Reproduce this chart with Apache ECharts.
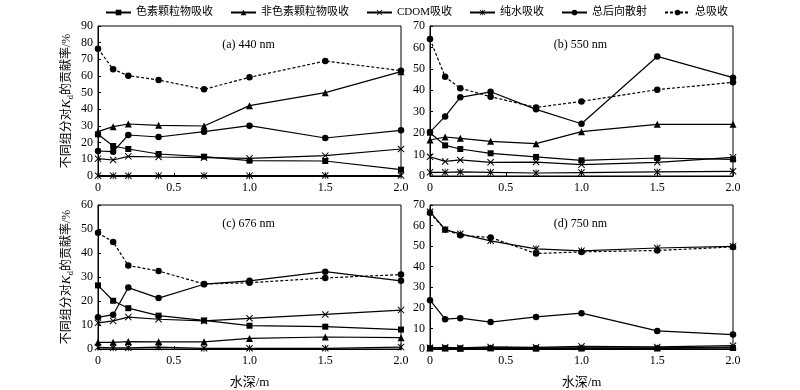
<!DOCTYPE html>
<html>
<head>
<meta charset="utf-8">
<script src="https://cdn.jsdelivr.net/npm/echarts@6/dist/echarts.min.js"></script>
<style>html,body{margin:0;padding:0;background:#fff}#c{width:800px;height:390px}</style>
</head>
<body>
<div id="c"></div>
<script>
var depth = [0, 0.1, 0.2, 0.4, 0.7, 1.0, 1.5, 2.0];
var seriesNames = ['色素颗粒物吸收', '非色素颗粒物吸收', 'CDOM吸收', '纯水吸收', '总后向散射', '总吸收'];
var panelTitles = ['(a) 440 nm', '(b) 550 nm', '(c) 676 nm', '(d) 750 nm'];
var yMax = [90, 70, 60, 70];
var xTicks = ['0', '0.5', '1.0', '1.5', '2.0'];

// (a) 440 nm
var pig_a = [25, 18, 16.2, 13.2, 11.6, 9.2, 9, 3.8];
var nap_a = [26.6, 29.6, 31.2, 30.4, 30, 42.2, 50, 62.6];
var cdom_a = [10.4, 9.6, 11.8, 11.4, 11, 10.6, 12.2, 16.2];
var water_a = [0.2, 0.2, 0.2, 0.2, 0.2, 0.2, 0.3, 0.3];
var bb_a = [15, 14.6, 24.6, 23.4, 26.6, 30.2, 22.8, 27.4];
var tot_a = [76.4, 64, 60.2, 57.6, 52, 59.2, 69, 63.2];
// (b) 550 nm
var pig_b = [20.2, 14.3, 12.6, 10.6, 8.9, 7.3, 8.4, 7.8];
var nap_b = [16.8, 18.2, 17.6, 16.2, 15.1, 20.7, 24.1, 24.1];
var cdom_b = [9, 6.8, 7.5, 6.4, 6.5, 5.3, 6.4, 8.7];
var water_b = [1.7, 1.7, 1.9, 1.7, 1.4, 1.6, 1.9, 2.2];
var bb_b = [20.5, 27.8, 36.7, 39.3, 31.1, 24.4, 55.8, 45.9];
var tot_b = [63.9, 46.3, 41, 37, 32, 34.8, 40.3, 43.7];
// (c) 676 nm
var pig_c = [26.5, 20.1, 17, 13.9, 11.9, 9.7, 9.3, 8.1];
var nap_c = [2.8, 2.8, 3.1, 3, 3, 4.4, 5, 4.7];
var cdom_c = [10.9, 11.7, 13.3, 12.4, 11.7, 12.8, 14.4, 16.2];
var water_c = [0.7, 0.5, 0.5, 0.8, 0.3, 0.3, 0.3, 0.8];
var bb_c = [13.2, 14.3, 25.6, 21.2, 27, 28.4, 32.2, 28.4];
var tot_c = [48.4, 44.6, 34.8, 32.5, 27.1, 27.6, 29.6, 31];
// (d) 750 nm
var pig_d = [0.4, 0.4, 0.3, 0.4, 0.3, 0.3, 0.3, 0.5];
var nap_d = [0.5, 0.5, 0.4, 0.6, 0.5, 0.6, 0.6, 0.9];
var cdom_d = [0.6, 0.8, 0.6, 1.0, 0.8, 1.3, 1.0, 1.6];
var water_d = [66.7, 58.1, 56, 52.6, 48.7, 47.7, 49.1, 49.9];
var bb_d = [23.7, 14.5, 15, 13.1, 15.6, 17.4, 8.8, 7];
var tot_d = [66.2, 58, 55.3, 54.2, 46.4, 47.2, 47.9, 49.6];

var panels = [
  [pig_a, nap_a, cdom_a, water_a, bb_a, tot_a],
  [pig_b, nap_b, cdom_b, water_b, bb_b, tot_b],
  [pig_c, nap_c, cdom_c, water_c, bb_c, tot_c],
  [pig_d, nap_d, cdom_d, water_d, bb_d, tot_d]
];

var FONT = "'Times New Roman','Liberation Serif','Noto Sans CJK SC',serif";
var X_PATH = 'path://M0,1L1,0L5,4L9,0L10,1L6,5L10,9L9,10L5,6L1,10L0,9L4,5Z';
var STAR_PATH = 'path://M0,1L1,0L5,4L9,0L10,1L6,5L10,9L9,10L5,6L1,10L0,9L4,5Z M4.4,0L5.6,0L5.6,10L4.4,10Z';
var symbols = ['rect', 'triangle', X_PATH, STAR_PATH, 'circle', 'circle'];
var symbolSizes = [6, 7, 7, 7, 6.5, 6.5];

var grids = [
  {left: 98, top: 26, width: 303, height: 150},
  {left: 430, top: 26, width: 303, height: 150},
  {left: 98, top: 205, width: 303, height: 148},
  {left: 430, top: 205, width: 303, height: 148}
];

var xAxes = [], yAxes = [], series = [], titles = [];
for (var p = 0; p < 4; p++) {
  grids[p].show = true;
  grids[p].borderColor = '#000';
  grids[p].borderWidth = 1;
  grids[p].backgroundColor = 'transparent';
  xAxes.push({
    type: 'value', gridIndex: p, min: 0, max: 2, interval: 0.5,
    axisLine: {show: true, lineStyle: {color: '#000', width: 1}},
    axisTick: {show: true, inside: true, length: 3, lineStyle: {color: '#000'}},
    splitLine: {show: false},
    axisLabel: {color: '#000', fontFamily: FONT, fontSize: 12, margin: 6,
      formatter: function (v) { return xTicks[Math.round(v / 0.5)]; }},
    name: p >= 2 ? '水深/m' : '', nameLocation: 'middle', nameGap: 27,
    nameTextStyle: {color: '#000', fontFamily: FONT, fontSize: 13}
  });
  yAxes.push({
    type: 'value', gridIndex: p, min: 0, max: yMax[p], interval: 10,
    axisLine: {show: true, lineStyle: {color: '#000', width: 1}},
    axisTick: {show: true, inside: true, length: 3, lineStyle: {color: '#000'}},
    splitLine: {show: false},
    axisLabel: {color: '#000', fontFamily: FONT, fontSize: 12, margin: 5},
    name: (p % 2 === 0) ? '不同组分对{i|K}{s|d}的贡献率/%' : '',
    nameLocation: 'middle', nameRotate: 90, nameGap: 23,
    nameTextStyle: {color: '#000', fontFamily: FONT, fontSize: 12,
      rich: {
        i: {fontStyle: 'italic', fontFamily: FONT, fontSize: 13, color: '#000'},
        s: {fontFamily: FONT, fontSize: 9, color: '#000', padding: [7, 0, 0, 0]}
      }}
  });
  titles.push({
    text: panelTitles[p], left: grids[p].left + grids[p].width / 2 - 6, top: grids[p].top + 8,
    textAlign: 'center',
    textStyle: {color: '#000', fontFamily: FONT, fontSize: 12, fontWeight: 'normal'}
  });
  for (var s = 0; s < 6; s++) {
    var vals = panels[p][s];
    var data = depth.map(function (d, i) { return [d, vals[i]]; });
    series.push({
      type: 'line', name: seriesNames[s], xAxisIndex: p, yAxisIndex: p,
      data: data, symbol: symbols[s], symbolSize: symbolSizes[s],
      showAllSymbol: true, animation: false, z: s === 5 ? 3 : 2,
      lineStyle: {color: '#000', width: 1.2, type: s === 5 ? [3, 2] : 'solid'},
      itemStyle: {color: '#000', borderColor: '#000', borderWidth: 0}
    });
  }
}

var chart = echarts.init(document.getElementById('c'), null, {renderer: 'canvas'});
chart.setOption({
  backgroundColor: '#fff',
  animation: false,
  title: titles,
  legend: {
    data: seriesNames, top: 2, left: 100, itemGap: 17, itemWidth: 25, itemHeight: 7,
    textStyle: {color: '#000', fontFamily: FONT, fontSize: 11}
  },
  grid: grids,
  xAxis: xAxes,
  yAxis: yAxes,
  series: series
});
</script>
</body>
</html>
